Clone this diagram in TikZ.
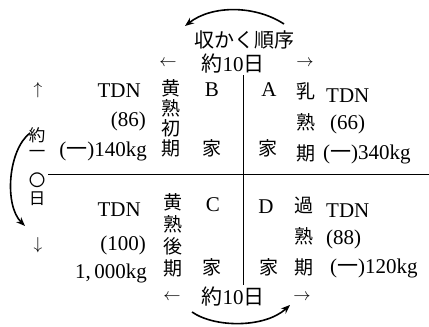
\documentclass[tikz,border=0pt]{standalone}
\usepackage{fontspec}
\setmainfont{Liberation Serif}
\newfontfamily\jp{Noto Sans CJK JP}
\usetikzlibrary{arrows.meta}
\tikzset{
  txt/.style={inner sep=0pt, font=\fontsize{21}{23}\selectfont},
  jtx/.style={inner sep=0pt, font=\fontsize{19}{21}\selectfont\jp},
  jsm/.style={inner sep=0pt, font=\fontsize{16.5}{18}\selectfont\jp},
  sym/.style={inner sep=0pt, font=\fontsize{17}{19}\selectfont},
  thin line/.style={line width=0.8pt},
  bigarc/.style={line width=1.6pt, -{Stealth[length=9pt,width=7pt]}}
}
\begin{document}
\begin{tikzpicture}[x=1pt,y=-1pt]
\useasboundingbox (0,0) rectangle (429,327);
% top header
\node[jtx, font=\fontsize{20}{22}\selectfont\jp] (title) at (244,40) {収かく順序};
\node[txt] (topdays) at (233,64) {{\jp 約}10{\jp 日}};
\node[sym] (tla) at (168,63) {$\leftarrow$};
\node[sym] (tra) at (305,63) {$\rightarrow$};
\coordinate (ta1) at (284,24);
\coordinate (ta2) at (185,26);
\draw[bigarc] (ta1) .. controls (255,5) and (212,5) .. (ta2);
% axes
\coordinate (vtop) at (243,75);
\coordinate (vbot) at (243,285);
\coordinate (hl) at (48,174);
\coordinate (hr) at (429,174);
\draw[thin line] (vtop) -- (vbot);
\draw[thin line] (hl) -- (hr);
% quadrant letters
\node[txt] (B) at (212,90) {B};
\node[txt] (A) at (269,90) {A};
\node[txt] (C) at (213,205) {C};
\node[txt] (D) at (266,207) {D};
\node[jtx] (kB) at (212,148) {家};
\node[jtx] (kA) at (268,148) {家};
\node[jtx] (kC) at (212,267) {家};
\node[jtx] (kD) at (269,267) {家};
% B stage
\node[jtx] (b1) at (171,88) {黄};
\node[jtx] (b2) at (171,108) {熟};
\node[jtx] (b3) at (171,128) {初};
\node[jtx] (b4) at (171,148) {期};
% A stage
\node[jtx] (a1) at (306,91) {乳};
\node[jtx] (a2) at (306,122) {熟};
\node[jtx] (a3) at (306,153) {期};
% C stage
\node[jtx] (c1) at (173,202) {黄};
\node[jtx] (c2) at (173,224) {熟};
\node[jtx] (c3) at (173,246) {後};
\node[jtx] (c4) at (173,268) {期};
% D stage
\node[jtx] (d1) at (304,205) {過};
\node[jtx] (d2) at (304,236) {熟};
\node[jtx] (d3) at (304,267) {期};
% B values
\node[txt, anchor=east] (btdn) at (141,91) {TDN};
\node[txt, anchor=east] (bval) at (146,121) {(86)};
\node[txt, anchor=east] (bkg) at (147,151) {({\jp 一})140kg};
% A values
\node[txt, anchor=west] (atdn) at (326,96) {TDN};
\node[txt, anchor=west] (aval) at (330,124) {(66)};
\node[txt, anchor=west] (akg) at (323,154) {({\jp 一})340kg};
% C values
\node[txt, anchor=east] (ctdn) at (141,210) {TDN};
\node[txt, anchor=east] (cval) at (146,245) {(100)};
\node[txt, anchor=east] (ckg) at (147,273) {1,\,000kg};
% D values
\node[txt, anchor=west] (dtdn) at (326,211) {TDN};
\node[txt, anchor=west] (dval) at (326,239) {(88)};
\node[txt, anchor=west] (dkg) at (330,268) {({\jp 一})120kg};
% left side
\node[sym] (upa) at (38,90) {$\uparrow$};
\node[sym] (dna) at (38,245) {$\downarrow$};
\node[jsm] (l1) at (37,135) {約};
\node[jsm] (l2) at (37,154) {一};
\node[jsm] (l3) at (37,180) {〇};
\node[jsm] (l4) at (37,199) {日};
\coordinate (la1) at (30,133);
\coordinate (la2) at (25,226);
\draw[bigarc] (la1) .. controls (8,150) and (4,205) .. (la2);
% bottom
\node[sym] (bla) at (172,297) {$\leftarrow$};
\node[sym] (bra) at (302,297) {$\rightarrow$};
\node[txt] (botdays) at (233,297) {{\jp 約}10{\jp 日}};
\coordinate (ba1) at (192,312);
\coordinate (ba2) at (290,305);
\draw[bigarc] (ba1) .. controls (215,328) and (265,328) .. (ba2);
\end{tikzpicture}
\end{document}
